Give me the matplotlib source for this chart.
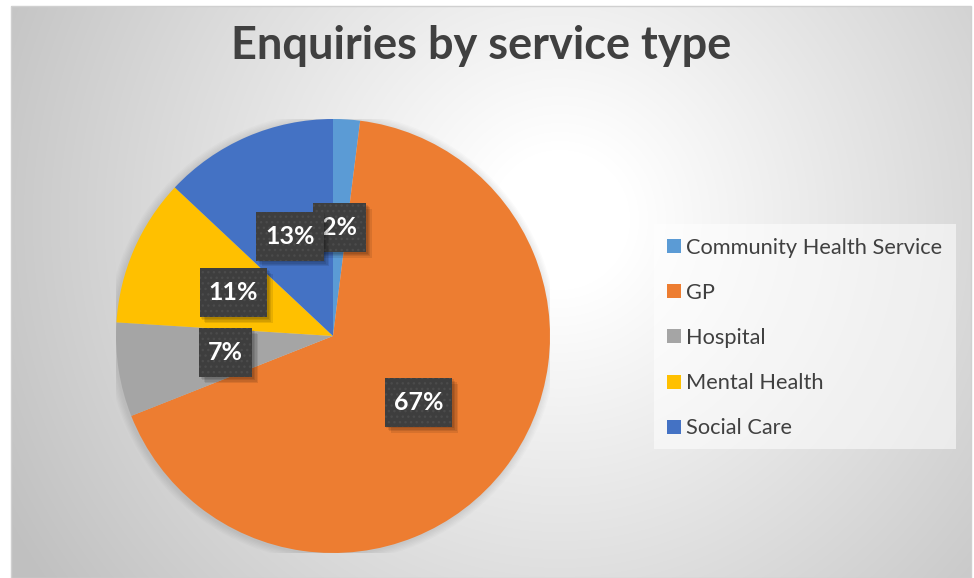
import numpy as np
import matplotlib
matplotlib.use("Agg")
import matplotlib.pyplot as plt
from matplotlib.patches import Rectangle, Circle
from matplotlib.path import Path
from matplotlib.transforms import Affine2D
import matplotlib.patheffects as pe

categories = ["Community Health Service", "GP", "Hospital", "Mental Health", "Social Care"]
shares = [2, 67, 7, 11, 13]
colors = ["#5B9BD5", "#ED7D31", "#A5A5A5", "#FFC000", "#4472C4"]
title = "Enquiries by service type"

W, H = 974, 578
fig = plt.figure(figsize=(W / 100, H / 100), dpi=100)
fig.patch.set_facecolor("white")


def px_rect(x0, y0, x1, y1):
    """Figure-fraction rectangle from pixel box (top-left origin)."""
    return [x0 / W, 1 - y1 / H, (x1 - x0) / W, (y1 - y0) / H]


def label_box(x0, y0, width, height, mutation_size):
    """Square label box with more vertical than horizontal padding."""
    px, py = 0.36 * mutation_size, 0.52 * mutation_size
    x0, y0 = x0 - px, y0 - py
    x1, y1 = x0 + width + 2 * px, y0 + height + 2 * py
    return Path.unit_rectangle().transformed(
        Affine2D().scale(x1 - x0, y1 - y0).translate(x0, y0))


class SoftShadow(pe.AbstractPathEffect):
    """Layered, hatch-free drop shadow toward the lower right."""

    def __init__(self, steps=4, step=1.0, alpha=0.09):
        super().__init__()
        self.steps, self.step, self.alpha = steps, step, alpha

    def draw_path(self, renderer, gc, tpath, affine, rgbFace=None):
        for i in range(1, self.steps + 1):
            gc0 = renderer.new_gc()
            gc0.copy_properties(gc)
            gc0.set_hatch(None)
            gc0.set_linewidth(0)
            gc0.set_alpha(self.alpha)
            off = renderer.points_to_pixels(self.step * i)
            renderer.draw_path(gc0, tpath, affine + Affine2D().translate(off, -off),
                               (0, 0, 0))
            gc0.restore()


# chart area with a radial gradient fill
area = (11, 6, 971, 578)
bg = fig.add_axes(px_rect(*area))
bg.set_axis_off()
xs = np.arange(area[0], area[2]) + 0.5
ys = np.arange(area[1], area[3]) + 0.5
X, Y = np.meshgrid(xs, ys)
d = np.hypot(X - 560, Y - 220)
t = np.clip((d - 70) / 560, 0, 1)
shade = 1 - 0.245 * t
bg.imshow(np.dstack([shade] * 3), aspect="auto", interpolation="bilinear",
          extent=(0, 1, 0, 1), origin="upper")
bg.set_xlim(0, 1)
bg.set_ylim(0, 1)
fig.patches.append(Rectangle((area[0] / W, 1 - area[3] / H),
                             (area[2] - area[0]) / W, (area[3] - area[1]) / H,
                             transform=fig.transFigure, fill=False,
                             edgecolor="#d0d0d0", linewidth=1.0, zorder=5))

# title
fig.text(481 / W, 1 - 46 / H, title, ha="center", va="center",
         fontsize=32.5, fontweight="bold", color="#404040", family="Lato")

# pie
cx, cy, r = 333, 336, 217
ax = fig.add_axes(px_rect(cx - r, cy - r, cx + r, cy + r))
for k in range(6):
    ax.add_patch(Circle((-0.004, -0.004), 1.0 + 0.006 * (k + 1),
                        facecolor="black", alpha=0.015, linewidth=0, zorder=0))
wedges, _, autotexts = ax.pie(
    shares, colors=colors, startangle=90, counterclock=False,
    autopct=lambda p: f"{p:.0f}%", pctdistance=0.5,
    wedgeprops=dict(linewidth=0, antialiased=True),
    textprops=dict(color="white", fontsize=18, fontweight="bold", family="Lato"),
)
for w in wedges:
    w.set_zorder(2)
for t_ in autotexts:
    t_.set_zorder(6)
    t_.set_bbox(dict(boxstyle=label_box, facecolor="#3e3e3e",
                     edgecolor="#4b4b4b", linewidth=0, hatch="..."))
    t_.get_bbox_patch().set_path_effects([SoftShadow(), pe.Normal()])
ax.set_xlim(-1, 1)
ax.set_ylim(-1, 1)
ax.set_axis_off()

# legend
leg_box = (654, 224, 956, 449)
fig.patches.append(Rectangle((leg_box[0] / W, 1 - leg_box[3] / H),
                             (leg_box[2] - leg_box[0]) / W,
                             (leg_box[3] - leg_box[1]) / H,
                             transform=fig.transFigure, facecolor="white",
                             alpha=0.55, edgecolor="none", zorder=3))
row_y = 246
for name, col in zip(categories, colors):
    fig.patches.append(Rectangle((667 / W, 1 - (row_y + 7) / H), 14 / W, 14 / H,
                                 transform=fig.transFigure, facecolor=col,
                                 edgecolor="none", zorder=4))
    fig.text(686 / W, 1 - (row_y + 1.5) / H, name, ha="left", va="center",
             fontsize=15.7, color="#404040", family="Lato", zorder=4)
    row_y += 45.2

fig.savefig("out.png", dpi=100)
